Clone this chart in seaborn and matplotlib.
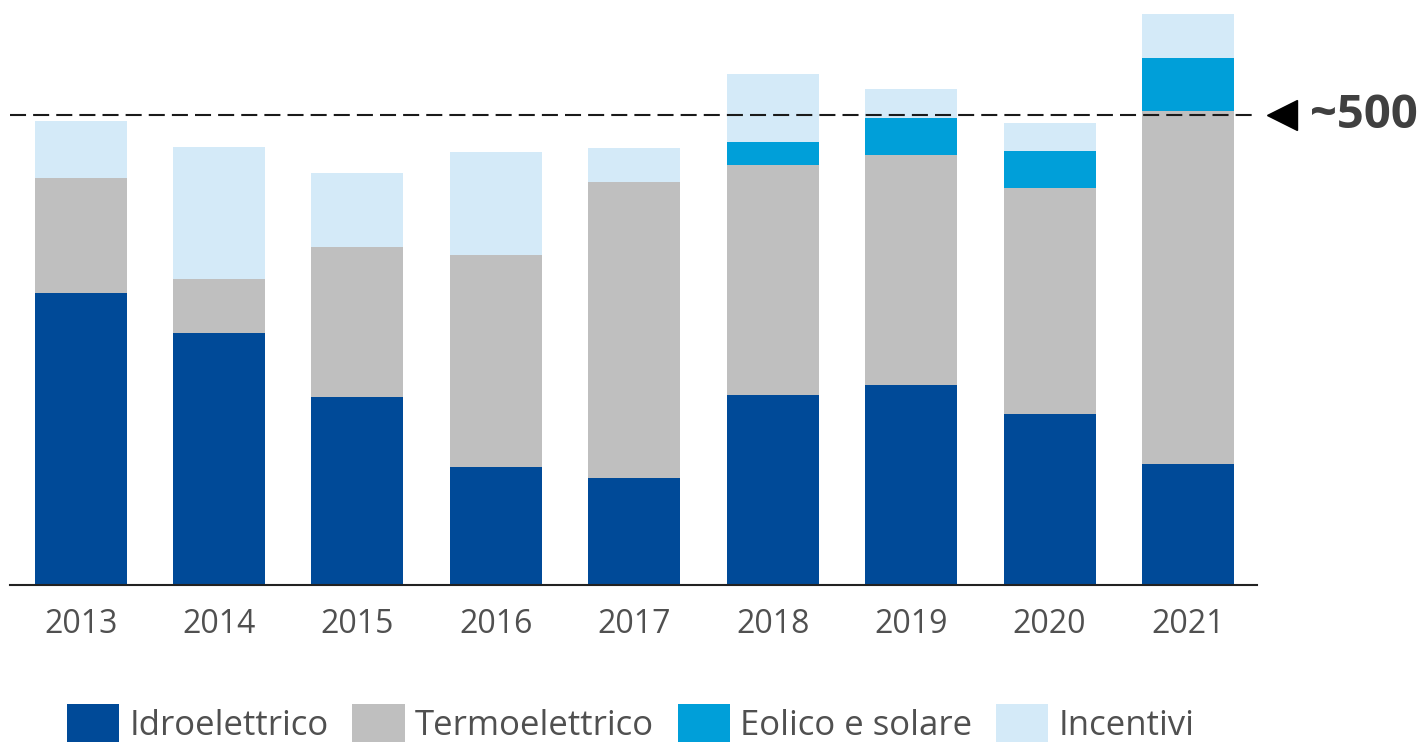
import numpy as np
import pandas as pd
import matplotlib
matplotlib.use("Agg")
import matplotlib.pyplot as plt
import seaborn as sns
from matplotlib.patches import Patch

# values (approximate, same units as the ~500 line)
years = ["2013", "2014", "2015", "2016", "2017", "2018", "2019", "2020", "2021"]
idro = [311, 268, 200, 126, 114, 203, 213, 182, 129]
termo = [122, 58, 160, 225, 315, 244, 245, 241, 375]
eolico = [0, 0, 0, 0, 0, 24, 39, 39, 57]
incentivi = [61, 140, 78, 110, 36, 73, 31, 30, 46]
ref_value = 500
ref_label = "~500"

series = ["Idroelettrico", "Termoelettrico", "Eolico e solare", "Incentivi"]
colors = ["#004A98", "#BFBFBF", "#009FD9", "#D4EAF8"]

sns.set_theme(style="white")
plt.rcParams["font.family"] = ["Open Sans", "DejaVu Sans"]

df = pd.DataFrame({"year": years, "Idroelettrico": idro, "Termoelettrico": termo,
                   "Eolico e solare": eolico, "Incentivi": incentivi})
# cumulative tops so the stack can be drawn from back (total) to front
cum = df[series].cumsum(axis=1)

fig = plt.figure(figsize=(14.27, 7.51), dpi=100)
ax = fig.add_axes([0.007, 0.2204, 0.874, 0.7766])

for name, col in reversed(list(zip(series, colors))):
    sns.barplot(x=df["year"], y=cum[name], color=col, width=0.665,
                errorbar=None, ax=ax, saturation=1, linewidth=0)

ax.set_xlim(-0.51, 8.5)
ax.set_ylim(0, 620)
ax.set_xlabel("")
ax.set_ylabel("")
ax.set_yticks([])
for s in ["top", "right", "left"]:
    ax.spines[s].set_visible(False)
ax.spines["bottom"].set_color("#222222")
ax.spines["bottom"].set_linewidth(1.5)
ax.tick_params(axis="x", length=0, pad=16, labelsize=23, labelcolor="#505050")

# reference line with marker and label
line = ax.axhline(ref_value, color="#1a1a1a", lw=1.5, ls="--", clip_on=False)
line.set_dashes((7.7, 3.4))
ax.plot([8.68], [ref_value], marker="<", color="black", markersize=22,
        clip_on=False, zorder=5)
ax.text(8.88, ref_value, ref_label, fontsize=34, fontweight="bold",
        color="#404040", va="center", ha="left", clip_on=False)

handles = [Patch(facecolor=c, edgecolor="none", label=s) for s, c in zip(series, colors)]
fig.legend(handles=handles, loc="upper left", bbox_to_anchor=(0.047, 0.062),
           ncol=4, frameon=False, fontsize=25, handlelength=1.5, handleheight=1.3,
           handletextpad=0.3, columnspacing=0.68, labelcolor="#505050",
           borderaxespad=0, borderpad=0)

fig.savefig("out.png", dpi=100)
